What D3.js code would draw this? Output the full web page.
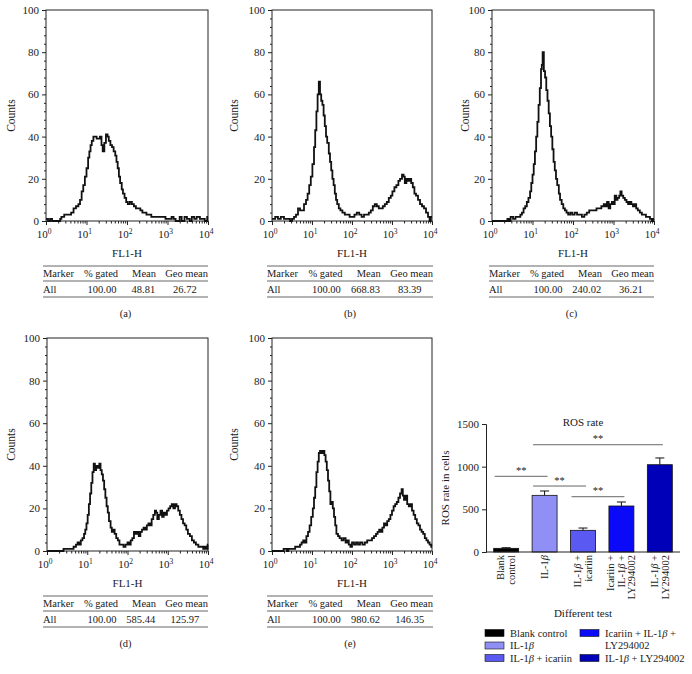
<!DOCTYPE html>
<html><head><meta charset="utf-8">
<script src="https://cdn.jsdelivr.net/npm/d3@7"></script>
<style>
body{margin:0;background:#fff}
svg{display:block}
text{font-family:"Liberation Serif","DejaVu Serif",serif;fill:#1a1a1a}
</style>
</head><body><svg id="c" width="692" height="674"></svg>
<script>
// ---------- Histogram data: [log10(FL1-H), counts] ----------
const histA = [[0,1],[0.05,0],[0.1,1],[0.15,0],[0.3,0],[0.35,1],[0.38,2],[0.45,3],[0.55,3],[0.62,4],[0.68,6],[0.74,7],[0.8,8],[0.84,10],[0.88,14],[0.92,17],[0.96,21],[1.0,25],[1.04,30],[1.07,33],[1.1,36],[1.13,38],[1.17,40],[1.21,40],[1.25,39],[1.29,39],[1.33,40],[1.37,36],[1.4,33],[1.44,37],[1.48,41],[1.52,40],[1.55,38],[1.59,36],[1.63,35],[1.67,33],[1.71,31],[1.74,28],[1.77,25],[1.8,21],[1.83,18],[1.87,15],[1.9,13],[1.94,11],[1.98,9],[2.02,8],[2.07,9],[2.12,8],[2.17,7],[2.22,6],[2.28,6],[2.33,5],[2.38,4],[2.43,4],[2.48,3],[2.55,3],[2.6,2],[2.68,2],[2.75,2],[2.85,2],[2.95,1],[3.05,1],[3.1,2],[3.15,1],[3.2,0],[3.3,2],[3.35,0],[3.42,2],[3.48,1],[3.55,0],[3.6,2],[3.66,1],[3.72,2],[3.8,1],[3.86,1],[3.92,0],[3.98,2]];
const histB = [[0,1],[0.08,2],[0.15,1],[0.22,2],[0.3,1],[0.38,1],[0.45,0],[0.5,1],[0.55,2],[0.6,3],[0.65,6],[0.7,5],[0.75,5],[0.8,8],[0.85,10],[0.89,13],[0.93,17],[0.97,21],[1.01,27],[1.05,35],[1.08,43],[1.11,52],[1.14,60],[1.17,66],[1.2,60],[1.23,57],[1.26,55],[1.29,50],[1.32,45],[1.35,40],[1.38,37],[1.42,32],[1.45,28],[1.48,24],[1.51,20],[1.54,17],[1.57,13],[1.6,10],[1.63,8],[1.67,6],[1.71,5],[1.76,4],[1.82,3],[1.88,3],[1.94,2],[2.0,2],[2.06,3],[2.12,4],[2.18,3],[2.24,2],[2.3,3],[2.36,3],[2.42,4],[2.47,5],[2.52,7],[2.57,8],[2.62,7],[2.67,6],[2.72,6],[2.77,7],[2.82,8],[2.87,9],[2.92,11],[2.97,12],[3.01,14],[3.06,16],[3.11,17],[3.16,19],[3.2,20],[3.25,22],[3.29,21],[3.32,18],[3.36,20],[3.4,19],[3.44,20],[3.48,18],[3.52,16],[3.56,13],[3.6,12],[3.65,10],[3.7,8],[3.75,7],[3.8,6],[3.85,4],[3.9,2],[3.94,0],[3.97,2]];
const histC = [[0,0],[0.35,0],[0.38,1],[0.42,0],[0.46,2],[0.52,1],[0.58,2],[0.64,2],[0.7,3],[0.74,4],[0.78,6],[0.82,7],[0.86,9],[0.9,11],[0.94,14],[0.97,18],[1.0,22],[1.03,27],[1.06,33],[1.09,40],[1.12,47],[1.15,55],[1.18,63],[1.21,72],[1.23,74],[1.25,80],[1.28,71],[1.31,68],[1.34,62],[1.37,57],[1.4,51],[1.43,45],[1.46,40],[1.49,34],[1.52,28],[1.55,24],[1.58,20],[1.61,17],[1.65,13],[1.68,10],[1.72,8],[1.76,6],[1.8,5],[1.84,4],[1.88,3],[1.93,4],[1.98,3],[2.04,4],[2.1,3],[2.16,3],[2.22,2],[2.28,3],[2.34,4],[2.4,5],[2.46,5],[2.52,5],[2.58,6],[2.64,6],[2.7,7],[2.76,8],[2.8,7],[2.84,9],[2.88,6],[2.92,8],[2.96,9],[3.0,8],[3.03,12],[3.07,10],[3.1,11],[3.14,12],[3.17,14],[3.2,12],[3.24,11],[3.28,10],[3.32,9],[3.36,8],[3.4,9],[3.44,8],[3.48,7],[3.52,8],[3.56,6],[3.6,5],[3.65,4],[3.7,3],[3.75,3],[3.8,2],[3.86,2],[3.9,1],[3.95,0],[3.98,1]];
const histD = [[0,0],[0.38,0],[0.41,1],[0.5,1],[0.6,1],[0.66,2],[0.72,3],[0.76,4],[0.8,3],[0.84,5],[0.88,6],[0.92,8],[0.95,10],[0.98,13],[1.01,17],[1.04,22],[1.07,27],[1.1,32],[1.13,37],[1.16,41],[1.19,38],[1.22,40],[1.26,39],[1.3,41],[1.33,38],[1.36,36],[1.39,33],[1.42,29],[1.45,25],[1.48,21],[1.51,18],[1.54,14],[1.58,11],[1.61,9],[1.64,10],[1.68,8],[1.72,6],[1.76,5],[1.8,3],[1.85,3],[1.9,2],[1.95,3],[2.0,4],[2.04,3],[2.08,5],[2.12,6],[2.16,9],[2.2,8],[2.24,9],[2.28,7],[2.32,9],[2.36,10],[2.4,11],[2.44,10],[2.48,12],[2.52,13],[2.56,12],[2.6,15],[2.64,17],[2.68,19],[2.71,18],[2.74,15],[2.78,17],[2.82,19],[2.86,16],[2.9,18],[2.94,17],[2.98,19],[3.02,20],[3.06,21],[3.1,22],[3.14,20],[3.18,22],[3.22,21],[3.26,19],[3.3,17],[3.34,15],[3.38,13],[3.42,12],[3.46,10],[3.5,8],[3.55,7],[3.6,5],[3.65,4],[3.7,3],[3.76,2],[3.82,2],[3.88,1],[3.92,2],[3.96,1],[3.99,3]];
const histE = [[0,0],[0.25,0],[0.29,1],[0.33,1],[0.37,0],[0.41,1],[0.5,1],[0.58,2],[0.64,2],[0.7,3],[0.74,4],[0.78,5],[0.82,4],[0.86,7],[0.9,9],[0.94,12],[0.98,16],[1.02,20],[1.05,25],[1.08,30],[1.11,37],[1.14,42],[1.17,46],[1.2,47],[1.24,46],[1.28,47],[1.31,45],[1.34,42],[1.37,38],[1.4,33],[1.43,28],[1.46,22],[1.49,23],[1.52,20],[1.55,16],[1.58,12],[1.61,8],[1.65,7],[1.69,6],[1.74,5],[1.79,6],[1.84,4],[1.88,5],[1.92,3],[1.96,2],[2.0,4],[2.05,3],[2.1,4],[2.15,3],[2.2,4],[2.26,3],[2.32,4],[2.38,5],[2.44,5],[2.5,6],[2.55,7],[2.6,8],[2.64,9],[2.68,10],[2.72,9],[2.76,11],[2.8,13],[2.84,12],[2.88,14],[2.92,15],[2.96,17],[3.0,19],[3.04,21],[3.08,22],[3.12,23],[3.16,25],[3.2,27],[3.24,29],[3.27,26],[3.3,24],[3.34,26],[3.38,22],[3.42,21],[3.46,22],[3.5,19],[3.54,17],[3.58,15],[3.62,13],[3.66,12],[3.7,10],[3.74,9],[3.78,8],[3.82,6],[3.86,5],[3.9,4],[3.94,3],[3.98,2]];

const tableHeader = ["Marker", "% gated", "Mean", "Geo mean"];
const statsA = ["All", "100.00", "48.81", "26.72"];
const statsB = ["All", "100.00", "668.83", "83.39"];
const statsC = ["All", "100.00", "240.02", "36.21"];
const statsD = ["All", "100.00", "585.44", "125.97"];
const statsE = ["All", "100.00", "980.62", "146.35"];
const panelLabels = ["(a)", "(b)", "(c)", "(d)", "(e)"];
const countTicks = [0, 20, 40, 60, 80, 100];
const decadeExps = [0, 1, 2, 3, 4];
const xAxisTitle = "FL1-H";
const yAxisTitle = "Counts";

// ---------- Bar chart data ----------
const barTitle = "ROS rate";
const barYTitle = "ROS rate in cells";
const barXTitle = "Different test";
const barCategories = ["Blank control", "IL-1β", "IL-1β + icariin", "Icariin + IL-1β + LY294002", "IL-1β + LY294002"];
const barLabelLines = [["Blank", "control"], ["IL-1β"], ["IL-1β +", "icariin"], ["Icariin +", "IL-1β +", "LY294002"], ["IL-1β +", "LY294002"]];
const barValues = [43, 664, 254, 539, 1023];
const barErrors = [7, 51, 27, 47, 79];
const barColors = ["#000000", "#8f8ff6", "#5a5af2", "#0a0af8", "#0000b8"];
const barTicks = [0, 500, 1000, 1500];
const sigFrom = [0, 1, 2, 1];
const sigTo = [1, 2, 3, 4];
const sigLevel = [887, 773, 648, 1257];
const sigText = ["**", "**", "**", "**"];

const svg = d3.select("#c");
const FS = 11;

function richText(sel, str) {
  const parts = str.split("β");
  parts.forEach((p, i) => {
    if (p.length) sel.append("tspan").text(p);
    if (i < parts.length - 1) sel.append("tspan").attr("font-style", "italic").text("β");
  });
}

// ---------- Histogram panels ----------
const panels = [
  {data: histA, stats: statsA, label: panelLabels[0], x0: 46, x1: 208, yTop: 10, yBot: 221, tx0: 43, tx1: 208, cx: 15},
  {data: histB, stats: statsB, label: panelLabels[1], x0: 272, x1: 432, yTop: 10, yBot: 221, tx0: 267, tx1: 433, cx: 238},
  {data: histC, stats: statsC, label: panelLabels[2], x0: 492, x1: 654, yTop: 10, yBot: 221, tx0: 489, tx1: 654, cx: 469},
  {data: histD, stats: statsD, label: panelLabels[3], x0: 47, x1: 208, yTop: 338, yBot: 551, tx0: 43, tx1: 208, cx: 15},
  {data: histE, stats: statsE, label: panelLabels[4], x0: 272, x1: 432, yTop: 338, yBot: 551, tx0: 267, tx1: 433, cx: 238}
];

panels.forEach(p => {
  const g = svg.append("g");
  const x = d3.scaleLog().domain([1, 1e4]).range([p.x0, p.x1]);
  const y = d3.scaleLinear().domain([0, 100]).range([p.yBot, p.yTop]);

  g.append("rect").attr("x", p.x0).attr("y", p.yTop).attr("width", p.x1 - p.x0).attr("height", p.yBot - p.yTop)
    .attr("fill", "none").attr("stroke", "#222").attr("stroke-width", 1);

  const ya = g.append("g").attr("transform", `translate(${p.x0},0)`)
    .call(d3.axisLeft(y).tickValues(countTicks).tickSize(4).tickPadding(3));
  ya.select(".domain").remove();
  ya.selectAll("text").attr("font-size", FS).attr("font-family", '"Liberation Serif",serif').attr("fill", "#1a1a1a");
  ya.selectAll("line").attr("stroke", "#222");
  const minorY = d3.range(0, 101, 4).filter(v => !countTicks.includes(v));
  const ym = g.append("g").attr("transform", `translate(${p.x0},0)`)
    .call(d3.axisLeft(y).tickValues(minorY).tickSize(2).tickFormat(""));
  ym.select(".domain").remove();
  ym.selectAll("line").attr("stroke", "#222");

  const majors = decadeExps.map(e => Math.pow(10, e));
  const xa = g.append("g").attr("transform", `translate(0,${p.yBot})`)
    .call(d3.axisBottom(x).tickValues(majors).tickSize(4).tickFormat(""));
  xa.select(".domain").remove();
  xa.selectAll("line").attr("stroke", "#222");
  const minors = [];
  decadeExps.slice(0, -1).forEach(e => { for (let k = 2; k <= 9; k++) minors.push(k * Math.pow(10, e)); });
  const xm = g.append("g").attr("transform", `translate(0,${p.yBot})`)
    .call(d3.axisBottom(x).tickValues(minors).tickSize(2.5).tickFormat(""));
  xm.select(".domain").remove();
  xm.selectAll("line").attr("stroke", "#222");

  decadeExps.forEach(e => {
    const t = g.append("text").attr("x", x(Math.pow(10, e)) - 2).attr("y", p.yBot + 17)
      .attr("text-anchor", "middle").attr("font-size", FS);
    t.append("tspan").text("10");
    t.append("tspan").attr("dy", -4.5).attr("font-size", 7.5).text(e);
  });

  g.append("text").attr("x", (p.x0 + p.x1) / 2).attr("y", p.yBot + 35.5).attr("text-anchor", "middle")
    .attr("font-size", FS).text(xAxisTitle);
  g.append("text").attr("transform", `translate(${p.cx},${(p.yTop + p.yBot) / 2}) rotate(-90)`)
    .attr("text-anchor", "middle").attr("font-size", 11.5).text(yAxisTitle);

  const line = d3.line().x(d => x(Math.pow(10, d[0]))).y(d => y(d[1])).curve(d3.curveStepAfter);
  const pts = p.data.concat([[4, p.data[p.data.length - 1][1]]]);
  g.append("path").datum(pts).attr("d", line).attr("fill", "none").attr("stroke", "#111")
    .attr("stroke-width", 1.8).attr("stroke-linejoin", "miter");

  const w = p.tx1 - p.tx0;
  const b = p.yBot;
  [b + 45, b + 60, b + 76].forEach(ly => {
    g.append("line").attr("x1", p.tx0).attr("x2", p.tx1).attr("y1", ly).attr("y2", ly)
      .attr("stroke", "#555").attr("stroke-width", 0.9);
  });
  const hx = [[0, "start"], [0.455, "end"], [0.685, "end"], [1.0, "end"]];
  tableHeader.forEach((h, i) => {
    g.append("text").attr("x", p.tx0 + hx[i][0] * w).attr("y", b + 56).attr("text-anchor", hx[i][1])
      .attr("font-size", 10.5).text(h);
  });
  const vx = [[0, "start"], [0.445, "end"], [0.68, "end"], [0.86, "middle"]];
  p.stats.forEach((v, i) => {
    g.append("text").attr("x", p.tx0 + vx[i][0] * w).attr("y", b + 72).attr("text-anchor", vx[i][1])
      .attr("font-size", 10.5).text(v);
  });
  g.append("text").attr("x", (p.tx0 + p.tx1) / 2).attr("y", b + 95.5).attr("text-anchor", "middle")
    .attr("font-size", 10.5).text(p.label);
});

// ---------- Bar chart ----------
const bg = svg.append("g");
const bx = d3.scaleBand().domain(barCategories).range([486, 680]).paddingInner(0.35).paddingOuter(0.2);
const by = d3.scaleLinear().domain([0, 1500]).range([552, 424]);

const bya = bg.append("g").attr("transform", "translate(486,0)")
  .call(d3.axisLeft(by).tickValues(barTicks).tickSize(4).tickPadding(3).tickFormat(d3.format("d")));
bya.select(".domain").attr("stroke", "#222");
bya.selectAll("line").attr("stroke", "#222");
bya.selectAll("text").attr("font-size", FS).attr("font-family", '"Liberation Serif",serif').attr("fill", "#1a1a1a");

bg.selectAll("rect.bar").data(barCategories).enter().append("rect")
  .attr("x", d => bx(d)).attr("width", bx.bandwidth())
  .attr("y", (d, i) => by(barValues[i])).attr("height", (d, i) => by(0) - by(barValues[i]))
  .attr("fill", (d, i) => barColors[i]).attr("stroke", "#111").attr("stroke-width", 0.8);

barCategories.forEach((c, i) => {
  const cx = bx(c) + bx.bandwidth() / 2;
  const top = by(barValues[i] + barErrors[i]);
  bg.append("line").attr("x1", cx).attr("x2", cx).attr("y1", by(barValues[i])).attr("y2", top)
    .attr("stroke", "#111").attr("stroke-width", 1);
  bg.append("line").attr("x1", cx - 4.5).attr("x2", cx + 4.5).attr("y1", top).attr("y2", top)
    .attr("stroke", "#111").attr("stroke-width", 1);
});

bg.append("line").attr("x1", 486).attr("x2", 680).attr("y1", by(0)).attr("y2", by(0))
  .attr("stroke", "#222").attr("stroke-width", 1);

sigFrom.forEach((f, i) => {
  const x1 = bx(barCategories[f]) + 1;
  const x2 = bx(barCategories[sigTo[i]]) + bx.bandwidth() / 2 + 3;
  const yy = by(sigLevel[i]);
  bg.append("line").attr("x1", x1).attr("x2", x2).attr("y1", yy).attr("y2", yy)
    .attr("stroke", "#555").attr("stroke-width", 0.9);
  bg.append("text").attr("x", (x1 + x2) / 2).attr("y", yy - 2.5).attr("text-anchor", "middle")
    .attr("font-size", 10.5).attr("fill", "#444").text(sigText[i]);
});

barCategories.forEach((c, i) => {
  const lines = barLabelLines[i];
  const cx = bx(c) + bx.bandwidth() / 2;
  const lh = 10.5;
  lines.forEach((ln, j) => {
    const off = (j - (lines.length - 1) / 2) * lh + 3.5;
    const t = bg.append("text").attr("transform", `translate(${cx + off},555) rotate(-90)`)
      .attr("text-anchor", "end").attr("font-size", 10.5);
    richText(t, ln);
  });
});

bg.append("text").attr("x", 583).attr("y", 426).attr("text-anchor", "middle").attr("font-size", FS).text(barTitle);
bg.append("text").attr("transform", "translate(449,488) rotate(-90)").attr("text-anchor", "middle")
  .attr("font-size", FS).text(barYTitle);
bg.append("text").attr("x", 583).attr("y", 617).attr("text-anchor", "middle").attr("font-size", FS).text(barXTitle);

const legPos = [[485, 633], [485, 645.5], [485, 658], [580, 633], [580, 658]];
const legText = [["Blank control"], ["IL-1β"], ["IL-1β + icariin"], ["Icariin + IL-1β +", "LY294002"], ["IL-1β + LY294002"]];
barCategories.forEach((c, i) => {
  const [lx, ly] = legPos[i];
  bg.append("rect").attr("x", lx).attr("y", ly - 3.5).attr("width", 19).attr("height", 7)
    .attr("fill", barColors[i]).attr("stroke", "#111").attr("stroke-width", 0.6);
  legText[i].forEach((ln, j) => {
    const t = bg.append("text").attr("x", lx + 25).attr("y", ly + 3.5 + j * 12.5).attr("font-size", 10.5);
    richText(t, ln);
  });
});
</script>
</body></html>
